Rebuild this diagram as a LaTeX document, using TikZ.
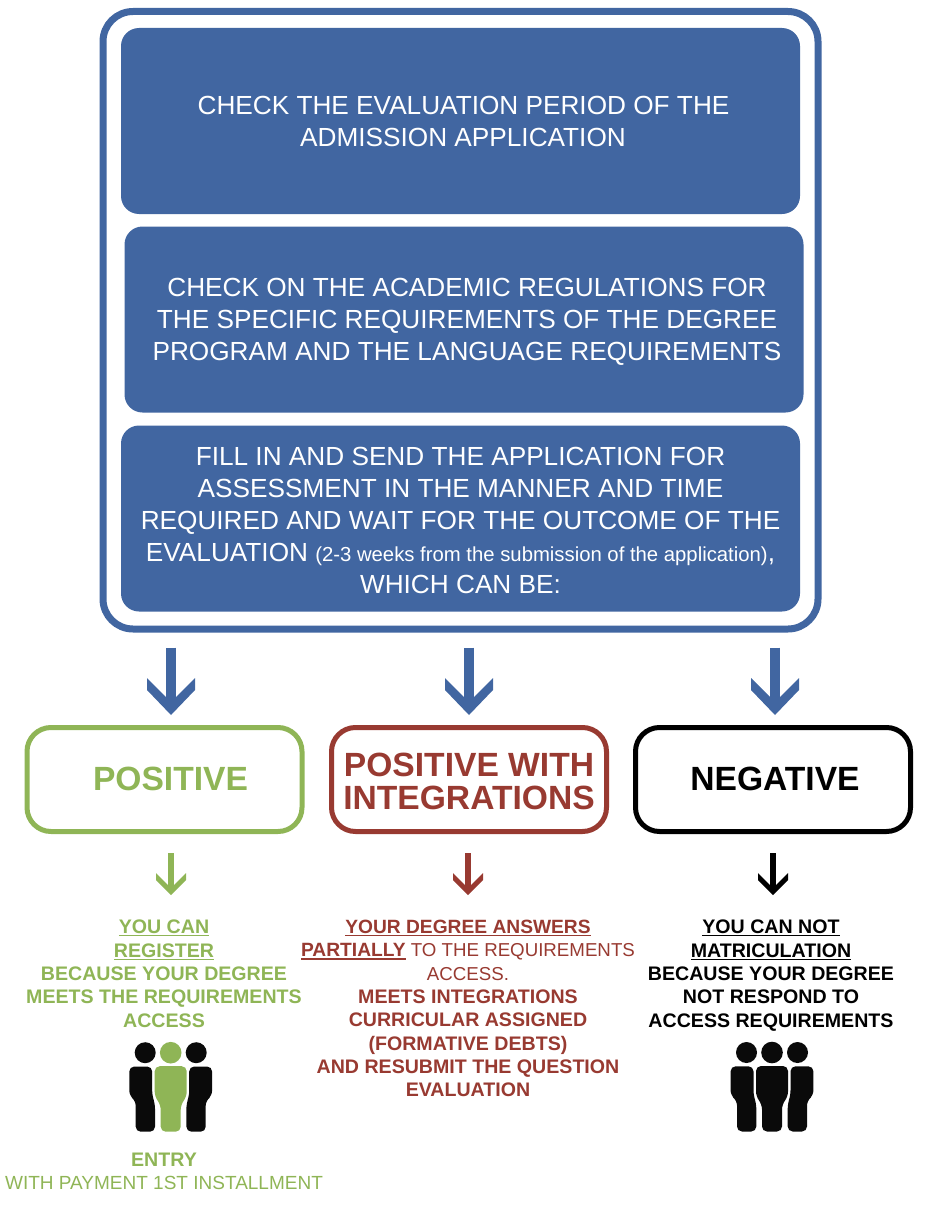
\documentclass[tikz,border=0pt]{standalone}
\usepackage{fontspec}
\setmainfont{Liberation Sans}
\usetikzlibrary{arrows.meta}
\definecolor{cblue}{HTML}{4166A1}
\definecolor{cgreen}{HTML}{8FB556}
\definecolor{cred}{HTML}{983A31}
\definecolor{cblack}{HTML}{0A0A0A}
\newsavebox\ulinebox
\newcommand{\uln}[1]{\sbox\ulinebox{#1}\rlap{\usebox\ulinebox}\rule[-2.6pt]{\wd\ulinebox}{1.1pt}}
\newcommand{\reg}{\fontsize{19}{23.3}\selectfont}
\newcommand{\regred}{\fontsize{18.7}{23.3}\selectfont}
\newcommand{\boldred}{\fontsize{19.2}{23.3}\selectfont\bfseries}
\pgfdeclarearrow{
  name=BigBarb,
  setup code={\pgfarrowssettipend{0pt}\pgfarrowssetlineend{-16pt}\pgfarrowssetvisualbackend{-37pt}\pgfarrowssetbackend{-37pt}
    \pgfarrowshullpoint{0pt}{0pt}\pgfarrowshullpoint{-37pt}{24pt}\pgfarrowshullpoint{-37pt}{-24pt}},
  drawing code={
    \pgfpathmoveto{\pgfqpoint{0pt}{0pt}}
    \pgfpathlineto{\pgfqpoint{-25pt}{24pt}}
    \pgfpathlineto{\pgfqpoint{-37pt}{24pt}}
    \pgfpathlineto{\pgfqpoint{-18pt}{5pt}}
    \pgfpathlineto{\pgfqpoint{-18pt}{-5pt}}
    \pgfpathlineto{\pgfqpoint{-37pt}{-24pt}}
    \pgfpathlineto{\pgfqpoint{-25pt}{-24pt}}
    \pgfpathclose\pgfusepathqfill}
}
\pgfdeclarearrow{
  name=SmallBarb,
  setup code={\pgfarrowssettipend{0pt}\pgfarrowssetlineend{-9pt}\pgfarrowssetvisualbackend{-22pt}\pgfarrowssetbackend{-22pt}
    \pgfarrowshullpoint{0pt}{0pt}\pgfarrowshullpoint{-22pt}{15pt}\pgfarrowshullpoint{-22pt}{-15pt}},
  drawing code={
    \pgfpathmoveto{\pgfqpoint{0pt}{0pt}}
    \pgfpathlineto{\pgfqpoint{-15pt}{15pt}}
    \pgfpathlineto{\pgfqpoint{-22pt}{15pt}}
    \pgfpathlineto{\pgfqpoint{-10pt}{3.2pt}}
    \pgfpathlineto{\pgfqpoint{-10pt}{-3.2pt}}
    \pgfpathlineto{\pgfqpoint{-22pt}{-15pt}}
    \pgfpathlineto{\pgfqpoint{-15pt}{-15pt}}
    \pgfpathclose\pgfusepathqfill}
}
\tikzset{
  x=1pt,y=-1pt,
  stepbox/.style={rectangle,rounded corners=18pt,fill=cblue,text=white,inner sep=0pt,
    minimum width=679pt,minimum height=186pt,align=center,
    font=\fontsize{26.2}{32}\selectfont},
  frame/.style={rectangle,draw=cblue,line width=7pt,rounded corners=30pt,inner sep=0pt,
    minimum width=715pt,minimum height=617.5pt},
  outcome/.style={rectangle,draw=#1,text=#1,line width=5pt,rounded corners=24pt,inner sep=0pt,
    minimum width=275pt,minimum height=104pt,align=center,
    font=\fontsize{33.6}{33}\selectfont\bfseries},
  note/.style={text=#1,inner sep=0pt,align=center,font=\fontsize{19.6}{23.3}\selectfont},
  bigarrow/.style={draw=cblue,line width=10pt,-{BigBarb},shorten <=15pt,shorten >=10pt},
  smallarrow/.style={draw=#1,line width=6.4pt,-{SmallBarb},shorten <=19pt,shorten >=25pt},
  people/.pic={
    \fill[cblack] (-25.5,0) circle (10.5);
    \fill[cblack] (25.5,0) circle (10.5);
    \fill[pic actions] (0,0) circle (10.8);
    \fill[cblack,rounded corners=5pt] (-18.5,13.8) -- (-41.4,13.8) -- (-41.4,43) -- (-35,48) -- (-35,79) -- (-15.7,79) -- (-15.7,51) -- (-18.5,43) -- cycle;
    \fill[cblack,rounded corners=5pt] (18.5,13.8) -- (41.4,13.8) -- (41.4,43) -- (35,48) -- (35,79) -- (15.7,79) -- (15.7,51) -- (18.5,43) -- cycle;
    \fill[pic actions,rounded corners=5pt] (-16,13.5) -- (16,13.5) -- (16,44) -- (10,52) -- (10,79) -- (-10,79) -- (-10,52) -- (-16,44) -- cycle;
  }
}
\begin{document}
\begin{tikzpicture}
\useasboundingbox (0,0) rectangle (937,1207);
\node[frame] (outer) at (460.5,320.25) {};
\node[stepbox] (s1) at (460.5,121) {\hspace*{6pt}CHECK THE EVALUATION PERIOD OF THE\\\hspace*{5pt}ADMISSION APPLICATION};
\node[stepbox] (s2) at (464,319.5) {\rule{0pt}{23.5pt}\hspace*{6pt}CHECK ON THE ACADEMIC REGULATIONS FOR\\\hspace*{6pt}THE SPECIFIC REQUIREMENTS OF THE DEGREE\\\hspace*{6pt}PROGRAM AND THE LANGUAGE REQUIREMENTS};
\node[stepbox] (s3) at (460.5,518.5) {\rule{0pt}{23pt}FILL IN AND SEND THE APPLICATION FOR\\ASSESSMENT IN THE MANNER AND TIME\\REQUIRED AND WAIT FOR THE OUTCOME OF THE\\EVALUATION {\fontsize{20.3}{32}\selectfont (2-3 weeks from the submission of the application)},\\WHICH CAN BE:};

\node[outcome=cgreen] (pos) at (164.5,779.5) {\hspace*{12pt}\raisebox{1pt}{POSITIVE}};
\node[outcome=cred] (int) at (469,779.5) {\rule{0pt}{26.5pt}POSITIVE WITH\\INTEGRATIONS};
\node[outcome=black] (neg) at (773,779.5) {\hspace*{4pt}\raisebox{1.5pt}{NEGATIVE}};

\coordinate (ax1) at (171,0);
\coordinate (ax2) at (469,0);
\coordinate (ax3) at (775,0);
\draw[bigarrow] (outer.south -| ax1) -- (pos.north -| ax1);
\draw[bigarrow] (outer.south -| ax2) -- (int.north -| ax2);
\draw[bigarrow] (outer.south -| ax3) -- (neg.north -| ax3);

\node[note=cgreen,anchor=north] (tpos) at (164,920) {\bfseries\uln{YOU CAN}\\\bfseries\uln{REGISTER}\\\bfseries BECAUSE YOUR DEGREE\\\bfseries MEETS THE REQUIREMENTS\\\bfseries ACCESS};
\node[note=cred,anchor=north] (tint) at (468,920) {\boldred\uln{YOUR DEGREE ANSWERS}\\\uln{\boldred PARTIALLY}{\regred{} TO THE REQUIREMENTS}\\{\regred ACCESS.}\\\bfseries MEETS INTEGRATIONS\\\bfseries CURRICULAR ASSIGNED\\\bfseries (FORMATIVE DEBTS)\\\bfseries AND RESUBMIT THE QUESTION\\\bfseries EVALUATION};
\node[note=black,anchor=north] (tneg) at (771,920) {\bfseries\uln{YOU CAN NOT}\\\bfseries\uln{MATRICULATION}\\\bfseries BECAUSE YOUR DEGREE\\\bfseries NOT RESPOND TO\\\bfseries ACCESS REQUIREMENTS};
\node[note=cgreen,anchor=north] (entry) at (164,1153) {\bfseries ENTRY\\{\reg WITH PAYMENT 1ST INSTALLMENT}};

\coordinate (bx1) at (171,0);
\coordinate (bx2) at (468,0);
\coordinate (bx3) at (773,0);
\draw[smallarrow=cgreen] (pos.south -| bx1) -- (tpos.north -| bx1);
\draw[smallarrow=cred] (int.south -| bx2) -- (tint.north -| bx2);
\draw[smallarrow=black] (neg.south -| bx3) -- (tneg.north -| bx3);

\pic[fill=cgreen] at (170.7,1052.7) {people};
\pic[fill=cblack] at (772,1052.5) {people};
\end{tikzpicture}
\end{document}
